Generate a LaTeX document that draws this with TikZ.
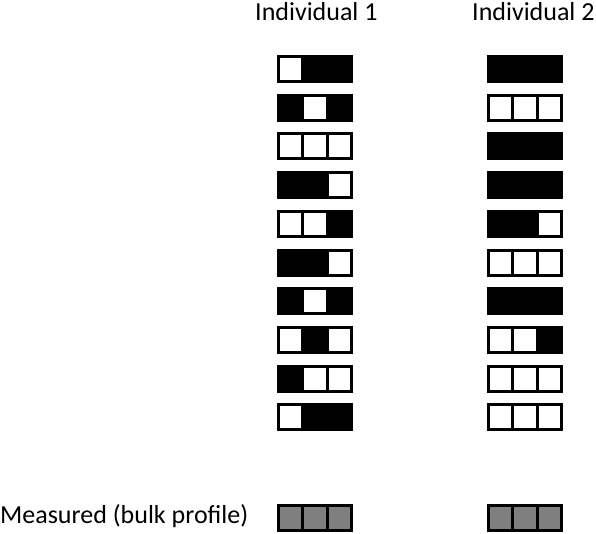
\documentclass[tikz,border=0pt]{standalone}
\usepackage{fontspec}
\setmainfont{Carlito}
\usepackage{xcolor}
\usepackage{tikz}
\definecolor{tone0}{HTML}{FFFFFF}
\definecolor{tone1}{HTML}{000000}
\definecolor{tone2}{HTML}{7F7F7F}
\newcommand{\LabelFont}{\fontsize{26}{31}\selectfont}

\begin{document}
\begin{tikzpicture}[x=1pt,y=-1pt,
    cell/.style={draw=black,line width=3pt,inner sep=0pt,
      minimum width=24.333pt,minimum height=25pt},
    label/.style={inner sep=0pt,anchor=base west}]
  \useasboundingbox (0,0) rectangle (596,533);
  \node[label] (head1) at (255,20) {\LabelFont Individual 1};
  \node[label] (head2) at (472,20) {\LabelFont Individual 2};
  \node[label] (bulk) at (0,523) {\LabelFont Measured (bulk profile)};
  % individual 1
  \foreach \r/\pa/\pb/\pc in {1/0/1/1,2/1/0/1,3/0/0/0,4/1/1/0,5/0/0/1,
                              6/1/1/0,7/1/0/1,8/0/1/0,9/1/0/0,10/0/1/1}
    \foreach \v [count=\c] in {\pa,\pb,\pc}
      \node[cell,fill=tone\v] (a-\r-\c) at ({278.5+24.333*(\c-0.5)},{69+38.7*(\r-1)}) {};
  % individual 2
  \foreach \r/\pa/\pb/\pc in {1/1/1/1,2/0/0/0,3/1/1/1,4/1/1/1,5/1/1/0,
                              6/0/0/0,7/1/1/1,8/0/0/1,9/0/0/0,10/0/0/0}
    \foreach \v [count=\c] in {\pa,\pb,\pc}
      \node[cell,fill=tone\v] (b-\r-\c) at ({488.5+24.333*(\c-0.5)},{69+38.7*(\r-1)}) {};
  % measured
  \foreach \c in {1,2,3} {
    \node[cell,fill=tone2] (ma-\c) at ({278.5+24.333*(\c-0.5)},518) {};
    \node[cell,fill=tone2] (mb-\c) at ({488.5+24.333*(\c-0.5)},518) {};
  }
\end{tikzpicture}
\end{document}
